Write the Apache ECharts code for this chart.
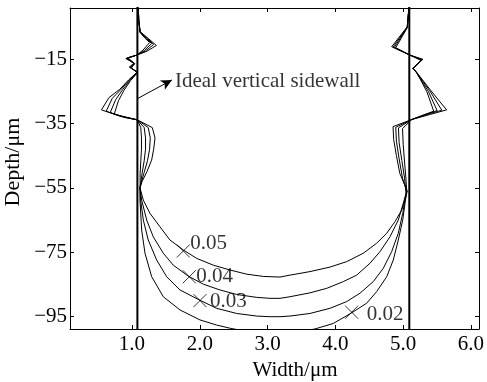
<!DOCTYPE html>
<html>
<head>
<meta charset="utf-8">
<script src="https://cdn.jsdelivr.net/npm/echarts@6/dist/echarts.min.js"></script>
<style>
  html, body { margin: 0; padding: 0; background: #fff; }
  #chart { width: 487px; height: 382px; }
</style>
</head>
<body>
<div id="chart"></div>
<script>
// Etched trench profiles (width vs depth, µm) for four process parameters.
// Each profile runs from the top of the left wall, through the floor, up the right wall.
const profile005 = [
  [1.093, 1.0], [1.10, -3.0], [1.12, -6.5], [1.25, -8.8], [1.36, -10.8], [1.22, -12.6], [1.07, -13.8],
  [0.91, -14.9], [1.03, -16.3], [0.96, -17.5], [1.08, -19.0], [0.95, -21.5], [0.82, -24.4], [0.66, -27.0],
  [0.55, -30.8], [0.75, -32.2], [1.08, -33.9], [1.30, -36.3], [1.34, -39.5], [1.32, -43.0], [1.29, -46.4],
  [1.22, -50.0], [1.15, -53.0], [1.118, -55.0],
  [1.167, -58.8], [1.265, -62.9], [1.413, -67.1], [1.560, -71.2], [1.757, -74.3], [1.954, -76.9],
  [2.199, -79.0], [2.445, -80.5], [2.692, -81.8], [2.937, -82.5], [3.183, -82.7], [3.330, -82.1],
  [3.625, -81.0], [3.920, -79.6], [4.167, -77.9], [4.411, -75.3], [4.609, -72.2], [4.757, -69.1],
  [4.879, -65.5], [4.978, -61.9], [5.041, -57.8], [5.06, -56.0],
  [5.00, -53.0], [4.95, -50.5], [4.90, -45.0], [4.86, -40.0], [4.85, -36.0], [5.125, -33.8], [5.40, -32.2],
  [5.64, -30.8], [5.40, -24.6], [5.19, -18.9], [5.14, -17.9], [5.29, -15.1], [5.10, -13.8], [4.83, -11.2],
  [5.06, -5.0], [5.085, 1.0]
];
const profile004 = [
  [1.093, 1.0], [1.10, -3.0], [1.12, -6.6], [1.23, -8.7], [1.32, -10.5], [1.20, -12.5], [1.07, -13.8],
  [0.92, -14.8], [1.03, -16.4], [0.97, -17.6], [1.08, -19.1], [0.96, -21.5], [0.84, -24.4], [0.71, -27.2],
  [0.62, -31.2], [0.80, -32.6], [1.08, -33.9], [1.24, -36.3], [1.27, -39.5], [1.26, -43.0], [1.23, -46.5],
  [1.18, -50.2], [1.14, -53.2], [1.118, -55.0],
  [1.143, -58.8], [1.217, -65.0], [1.314, -70.2], [1.462, -75.3], [1.609, -79.0], [1.830, -82.4],
  [2.052, -84.9], [2.298, -86.7], [2.544, -88.1], [2.839, -89.0], [3.035, -89.3], [3.183, -89.3],
  [3.330, -88.8], [3.625, -87.6], [3.872, -86.2], [4.117, -84.1], [4.314, -82.1], [4.510, -78.4],
  [4.658, -74.8], [4.805, -70.2], [4.928, -65.0], [5.001, -59.8], [5.052, -56.0],
  [4.99, -52.0], [4.94, -46.0], [4.90, -40.5], [4.89, -36.2], [5.125, -33.8], [5.35, -32.2], [5.57, -30.9],
  [5.39, -24.8], [5.19, -19.0], [5.14, -17.9], [5.28, -15.2], [5.10, -13.8], [4.85, -11.3], [5.06, -5.1],
  [5.085, 1.0]
];
const profile003 = [
  [1.093, 1.0], [1.10, -3.0], [1.12, -6.7], [1.21, -8.6], [1.29, -10.2], [1.18, -12.4], [1.07, -13.8],
  [0.93, -14.7], [1.04, -16.4], [0.98, -17.7], [1.08, -19.2], [0.97, -21.6], [0.86, -24.6], [0.76, -27.6],
  [0.68, -31.6], [0.85, -32.9], [1.08, -33.9], [1.18, -36.3], [1.20, -39.5], [1.20, -43.0], [1.18, -46.6],
  [1.15, -50.4], [1.13, -53.4], [1.118, -55.0],
  [1.128, -58.8], [1.167, -65.0], [1.240, -71.2], [1.364, -77.4], [1.512, -82.6], [1.708, -86.7],
  [2.003, -89.9], [2.249, -92.4], [2.544, -94.0], [2.839, -94.8], [3.035, -95.0], [3.183, -95.0],
  [3.330, -94.8], [3.625, -94.0], [3.920, -92.4], [4.167, -90.3], [4.363, -87.7], [4.559, -84.1],
  [4.706, -80.0], [4.830, -74.8], [4.928, -69.1], [4.993, -62.9], [5.041, -56.7],
  [5.02, -52.0], [4.98, -46.5], [4.94, -41.0], [4.93, -36.4], [5.125, -33.8], [5.31, -32.4], [5.50, -31.0],
  [5.37, -25.0], [5.19, -19.1], [5.15, -17.9], [5.27, -15.3], [5.10, -13.8], [4.87, -11.4], [5.06, -5.2],
  [5.085, 1.0]
];
const profile002 = [
  [1.093, 1.0], [1.10, -3.0], [1.12, -6.8], [1.19, -8.5], [1.26, -9.9], [1.16, -12.3], [1.07, -13.8],
  [0.94, -14.6], [1.04, -16.5], [0.99, -17.8], [1.08, -19.3], [0.98, -21.7], [0.88, -24.8], [0.80, -28.0],
  [0.74, -32.0], [0.90, -33.2], [1.08, -33.9], [1.13, -36.3], [1.14, -39.5], [1.14, -43.0], [1.13, -46.7],
  [1.12, -50.6], [1.12, -53.6], [1.118, -55.0],
  [1.118, -58.8], [1.143, -68.1], [1.192, -75.3], [1.291, -82.6], [1.462, -88.8], [1.708, -92.9],
  [2.003, -96.0], [2.249, -97.6], [2.45, -98.6], [2.75, -99.8], [3.10, -100.3], [3.45, -99.8],
  [3.70, -98.8], [3.969, -97.1], [4.240, -93.8], [4.462, -90.8], [4.609, -87.2], [4.757, -82.6],
  [4.854, -77.4], [4.928, -71.2], [4.993, -65.0], [5.027, -59.8], [5.052, -56.0],
  [5.04, -52.0], [5.02, -47.0], [5.00, -41.5], [4.99, -36.6], [5.125, -33.8], [5.27, -32.6], [5.45, -31.2],
  [5.35, -25.2], [5.20, -19.2], [5.15, -18.0], [5.26, -15.4], [5.10, -13.8], [4.89, -11.5], [5.06, -5.3],
  [5.085, 1.0]
];

// Ideal vertical sidewall positions (µm)
const wallX = [1.08, 5.09];

// Curve tags: marker position and parameter value
const tagX = [1.757, 1.845, 2.003, 4.240];
const tagY = [-74.6, -82.6, -90.0, -93.6];
const tagText = ['0.05', '0.04', '0.03', '0.02'];

// Axis ticks
const xTicks = [1, 2, 3, 4, 5, 6];
const yTicks = [-15, -35, -55, -75, -95];

const FONT = 'Liberation Serif';
const X_MIN = 0.086, X_MAX = 6.118, Y_MIN = -98.82, Y_MAX = 0.83;

const chart = echarts.init(document.getElementById('chart'), null, { renderer: 'canvas' });

const baseX = {
  type: 'value', min: X_MIN, max: X_MAX,
  splitLine: { show: false },
  axisLine: { show: true, onZero: false, lineStyle: { color: '#000', width: 1 } },
  axisTick: { show: true, inside: true, length: 4, customValues: xTicks, lineStyle: { color: '#000' } }
};
const baseY = {
  type: 'value', min: Y_MIN, max: Y_MAX,
  splitLine: { show: false },
  axisLine: { show: true, onZero: false, lineStyle: { color: '#000', width: 1 } },
  axisTick: { show: true, inside: true, length: 4, customValues: yTicks, lineStyle: { color: '#000' } }
};

const profiles = [profile005, profile004, profile003, profile002];
const profileSeries = profiles.map((d) => ({
  type: 'line', data: d, showSymbol: false, symbol: 'none', clip: true,
  lineStyle: { color: '#000', width: 1 }, z: 3, silent: true
}));

const wallSeries = wallX.map((x) => ({
  type: 'line', data: [[x, 5], [x, -110]], showSymbol: false, symbol: 'none', clip: true,
  lineStyle: { color: '#000', width: 2 }, z: 4, silent: true
}));

// per-tag label placement
const tagLabel = [
  { distance: 0, offset: [0, -7] },
  { distance: 0, offset: [0, 0] },
  { distance: 3, offset: [0, 1] },
  { distance: 8, offset: [0, 2] }
];

const tagSeries = {
  type: 'scatter',
  data: tagX.map((x, i) => ({
    value: [x, tagY[i]],
    label: { distance: tagLabel[i].distance, offset: tagLabel[i].offset }
  })),
  symbol: 'path://M0,0L10,10M10,0L0,10',
  symbolSize: 13,
  itemStyle: { color: 'rgba(0,0,0,0)', borderColor: '#000', borderWidth: 1 },
  label: {
    show: true, position: 'right', color: '#000', fontFamily: FONT, fontSize: 21,
    formatter: (p) => tagText[p.dataIndex]
  },
  z: 5, silent: true
};

// "Ideal vertical sidewall" note with its arrow
const noteSeries = {
  type: 'scatter',
  data: [[1.634, -22.05]],
  symbolSize: 0,
  label: {
    show: true, position: 'right', distance: 0, color: '#000', fontFamily: FONT, fontSize: 21,
    formatter: 'Ideal vertical sidewall'
  },
  markLine: {
    silent: true, animation: false,
    symbolSize: [8, 11],
    lineStyle: { color: '#000', width: 1, type: 'solid' },
    label: { show: false },
    data: [[
      { coord: [1.09, -27.2], symbol: 'none' },
      { coord: [1.59, -21.5], symbol: 'arrow' }
    ]]
  },
  z: 5, silent: true
};

chart.setOption({
  animation: false,
  backgroundColor: '#fff',
  textStyle: { fontFamily: FONT },
  grid: { left: 70, right: 8, top: 8, bottom: 53, containLabel: false, outerBoundsMode: 'none' },
  xAxis: [
    Object.assign({}, baseX, {
      position: 'bottom',
      axisLabel: {
        show: true, customValues: xTicks, margin: 5, color: '#000', fontFamily: FONT, fontSize: 21,
        formatter: (v) => v.toFixed(1)
      }
    }),
    Object.assign({}, baseX, { position: 'top', axisLabel: { show: false } })
  ],
  yAxis: [
    Object.assign({}, baseY, {
      position: 'left',
      axisLabel: {
        show: true, customValues: yTicks, margin: 3, color: '#000', fontFamily: FONT, fontSize: 21,
        formatter: (v) => (v < 0 ? '\u2212' : '') + Math.abs(v)
      }
    }),
    Object.assign({}, baseY, { position: 'right', axisLabel: { show: false } })
  ],
  graphic: [
    {
      type: 'text', x: 295, y: 370,
      style: { text: 'Width/\u03bcm', font: '21px "Liberation Serif"', fill: '#000', align: 'center', verticalAlign: 'middle' }
    },
    {
      type: 'text', x: 13, y: 162, rotation: Math.PI / 2,
      style: { text: 'Depth/\u03bcm', font: '22px "Liberation Serif"', fill: '#000', align: 'center', verticalAlign: 'middle' }
    }
  ],
  series: [].concat(profileSeries, wallSeries, [tagSeries, noteSeries])
});
</script>
</body>
</html>
